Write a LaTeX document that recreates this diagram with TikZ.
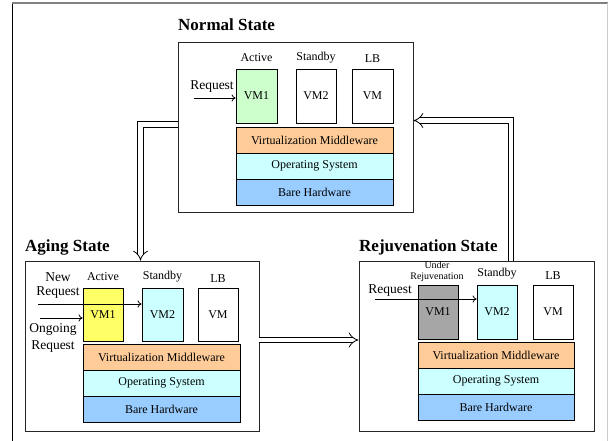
\documentclass[tikz,border=0pt]{standalone}
\usepackage{fontspec}
\setmainfont{Liberation Serif}
\usetikzlibrary{arrows.meta}
\definecolor{vmgreen}{HTML}{CCFFCC}
\definecolor{vmwor}{HTML}{FFCC99}
\definecolor{oscyan}{HTML}{CCFFFF}
\definecolor{hwblue}{HTML}{99CCFF}
\definecolor{agyel}{HTML}{FFFF66}
\definecolor{rjgray}{HTML}{A6A6A6}
\begin{document}
\begin{tikzpicture}[x=1pt,y=-1pt,
  statebox/.style={draw=black!85, line width=0.9pt, inner sep=0pt},
  vmbox/.style={draw=black, line width=0.8pt, inner sep=0pt, minimum height=54pt, font=\fontsize{12}{12}\selectfont},
  layer/.style={draw=black, line width=0.8pt, inner sep=0pt, minimum height=26pt, font=\fontsize{12}{12}\selectfont},
  lbl/.style={inner sep=0pt, font=\fontsize{12}{12}\selectfont},
  rq/.style={inner sep=0pt, font=\fontsize{13.5}{13.5}\selectfont},
  ttl/.style={inner sep=0pt, anchor=base west, font=\fontsize{17}{17}\selectfont\bfseries},
  arr/.style={-{To[length=4pt,width=7pt]}, line width=0.8pt},
  dbl/.style={double, double distance=4.5pt, line width=0.8pt, -{Implies}},
]
\useasboundingbox (0,0) rectangle (608,441);
% outer frame
\draw[black, line width=0.8pt] (12,441) -- (12,3);
\draw[black!50, line width=1.3pt] (12,3) -- (608,3);
\draw[black!20, line width=0.8pt] (607,3) -- (607,441);

% ---------- Normal State ----------
\node[ttl] (Nt) at (178,31) {Normal State};
\node[statebox, minimum width=235pt, minimum height=170pt] (N) at (295.5,127) {};
\node[vmbox, fill=vmgreen, minimum width=41pt] (N1) at (256.5,96) {VM1};
\node[vmbox, fill=white, minimum width=40pt] (N2) at (316,96) {VM2};
\node[vmbox, fill=white, minimum width=41pt] (N3) at (372.5,96) {VM};
\node[layer, fill=vmwor, minimum width=157pt] (Nv) at (314.5,140) {Virtualization Middleware};
\node[layer, fill=oscyan, minimum width=157pt] (No) at (314.5,166) {Operating System};
\node[layer, fill=hwblue, minimum width=157pt] (Nh) at (314.5,192) {Bare Hardware};
\node[lbl] (Nl1) at (256.5,58) {Active};
\node[lbl] (Nl2) at (316,58) {Standby};
\node[lbl] (Nl3) at (372.5,59) {LB};
\node[rq] (Nr) at (212,87) {Request};
\coordinate (Nrs) at (194,98);
\draw[arr] (Nrs) -- (Nrs -| N1.west);

% ---------- Aging State ----------
\node[ttl] (At) at (25,251) {Aging State};
\node[statebox, minimum width=234pt, minimum height=170pt] (A) at (142,346) {};
\node[vmbox, fill=agyel, minimum width=40pt, minimum height=53pt] (A1) at (103,314.5) {VM1};
\node[vmbox, fill=oscyan, minimum width=41pt, minimum height=53pt] (A2) at (162.5,314.5) {VM2};
\node[vmbox, fill=white, minimum width=40pt, minimum height=53pt] (A3) at (218,314.5) {VM};
\node[layer, fill=vmwor, minimum width=157pt] (Av) at (161.5,357) {Virtualization Middleware};
\node[layer, fill=oscyan, minimum width=157pt] (Ao) at (161.5,383) {Operating System};
\node[layer, fill=hwblue, minimum width=157pt] (Ah) at (161.5,409) {Bare Hardware};
\node[lbl] (Al1) at (103,277) {Active};
\node[lbl] (Al2) at (162.5,277) {Standby};
\node[lbl] (Al3) at (218,279) {LB};
\node[rq] (An1) at (58,277) {New};
\node[rq] (An2) at (58,293) {Request};
\node[rq] (Ao1) at (53,329) {Ongoing};
\node[rq] (Ao2) at (53,347) {Request};
\coordinate (Ans) at (38,304);
\coordinate (Aos) at (40,318);
\draw[arr] (Ans) -- (Ans -| A2.west);
\draw[arr] (Aos) -- (Aos -| A1.west);

% ---------- Rejuvenation State ----------
\node[ttl] (Rt) at (359,251) {Rejuvenation State};
\node[statebox, minimum width=235pt, minimum height=170pt] (R) at (476.5,346) {};
\node[vmbox, fill=rjgray, minimum width=40pt] (R1) at (438,312) {VM1};
\node[vmbox, fill=oscyan, minimum width=40pt] (R2) at (497,312) {VM2};
\node[vmbox, fill=white, minimum width=40pt] (R3) at (553,312) {VM};
\node[layer, fill=vmwor, minimum width=156pt] (Rv) at (496,355) {Virtualization Middleware};
\node[layer, fill=oscyan, minimum width=156pt] (Ro) at (496,381) {Operating System};
\node[layer, fill=hwblue, minimum width=156pt] (Rh) at (496,407) {Bare Hardware};
\node[inner sep=0pt, font=\fontsize{10}{10}\selectfont] (Ru1) at (437,265) {Under};
\node[inner sep=0pt, font=\fontsize{10}{10}\selectfont] (Ru2) at (437,277) {Rejuvenation};
\node[lbl] (Rl2) at (497,274) {Standby};
\node[lbl] (Rl3) at (553,276) {LB};
\node[rq] (Rr) at (390,291) {Request};
\coordinate (Rrs) at (375,299);
\draw[arr] (Rrs) -- (Rrs -| R2.west);

% ---------- transitions ----------
\draw[dbl] ([yshift=2.5pt]N.west) -| ([xshift=-1.5pt]A.north);
\draw[dbl] ([yshift=6pt]A.east) -- ([yshift=6pt]R.west);
\draw[dbl] ([xshift=34.5pt]R.north) |- ([yshift=6.5pt]N.east);
\end{tikzpicture}
\end{document}
